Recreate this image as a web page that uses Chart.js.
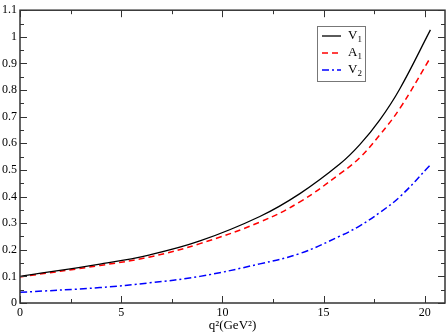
<!DOCTYPE html>
<html>
<head>
<meta charset="utf-8">
<script src="https://cdn.jsdelivr.net/npm/chart.js@4.4.0/dist/chart.umd.min.js"></script>
<style>
    html, body { margin: 0; padding: 0; background: #fff; }
</style>
</head>
<body>
<canvas id="chart" width="447" height="336"></canvas>
<script>
// Values
const q2Values = [0, 3.95, 6.42, 8.89, 11.85, 13.83, 15.80, 16.79, 17.78, 18.77, 20.28];
const v1Values = [0.100, 0.146, 0.181, 0.233, 0.325, 0.411, 0.522, 0.595, 0.688, 0.805, 1.026];
const a1Values = [0.098, 0.141, 0.173, 0.223, 0.304, 0.380, 0.485, 0.546, 0.632, 0.731, 0.922];
const v2Values = [0.040, 0.058, 0.076, 0.100, 0.147, 0.186, 0.251, 0.290, 0.340, 0.399, 0.519];

// Tick labels shown on the axes
const xTickLabels = [0, 5, 10, 15, 20];

// Legend text: main letter + subscript
const seriesNames = [['V', '1'], ['A', '1'], ['V', '2']];
const xTitle = 'q\u00B2(GeV\u00B2)';

const FONT = '"Liberation Serif", "DejaVu Serif", serif';

function toPoints(ys) {
    return q2Values.map((x, i) => ({ x: x, y: ys[i] }));
}

// Frame with inward ticks on all four sides, then the boxed legend
const framePlugin = {
    id: 'frame',
    afterDatasetsDraw(chart) {
        const ctx = chart.ctx;
        const area = chart.chartArea;
        const xs = chart.scales.x;
        const ys = chart.scales.y;

        ctx.save();
        ctx.strokeStyle = '#333';
        ctx.lineWidth = 1.5;
        ctx.strokeRect(area.left, area.top, area.right - area.left, area.bottom - area.top);

        ctx.lineWidth = 1;
        ctx.beginPath();
        for (let v = 0; v <= 21.001; v += 2.5) {
            const px = Math.round(xs.getPixelForValue(v)) + 0.5;
            const len = (Math.abs(v % 5) < 0.01) ? 7 : 4;
            ctx.moveTo(px, area.bottom);
            ctx.lineTo(px, area.bottom - len);
            ctx.moveTo(px, area.top);
            ctx.lineTo(px, area.top + len);
        }
        for (let i = 0; i <= 22; i++) {
            const py = Math.round(ys.getPixelForValue(i * 0.05)) + 0.5;
            const len = (i % 2 === 0) ? 7 : 4;
            ctx.moveTo(area.left, py);
            ctx.lineTo(area.left + len, py);
            ctx.moveTo(area.right, py);
            ctx.lineTo(area.right - len, py);
        }
        ctx.stroke();

        // legend box
        const bx = 317, by = 26, bw = 48, bh = 55;
        ctx.fillStyle = '#fff';
        ctx.fillRect(bx, by, bw, bh);
        ctx.strokeStyle = '#777';
        ctx.lineWidth = 1;
        ctx.strokeRect(bx + 0.5, by + 0.5, bw, bh);

        chart.data.datasets.forEach((ds, i) => {
            const rowY = by + 10 + i * 17;
            ctx.strokeStyle = ds.borderColor;
            ctx.lineWidth = ds.borderWidth;
            ctx.setLineDash(ds.borderDash || []);
            ctx.beginPath();
            ctx.moveTo(bx + 5, rowY);
            ctx.lineTo(bx + 24, rowY);
            ctx.stroke();
            ctx.setLineDash([]);

            ctx.fillStyle = '#000';
            ctx.textBaseline = 'middle';
            ctx.textAlign = 'left';
            ctx.font = '13px ' + FONT;
            ctx.fillText(seriesNames[i][0], bx + 31, rowY);
            const w = ctx.measureText(seriesNames[i][0]).width;
            ctx.font = '9px ' + FONT;
            ctx.fillText(seriesNames[i][1], bx + 31 + w, rowY + 4);
        });
        ctx.restore();
    }
};

new Chart(document.getElementById('chart'), {
    type: 'line',
    data: {
        datasets: [
            {
                label: 'V1',
                data: toPoints(v1Values),
                borderColor: '#000000',
                borderWidth: 1.3,
                pointRadius: 0,
                tension: 0.4,
                fill: false
            },
            {
                label: 'A1',
                data: toPoints(a1Values),
                borderColor: '#ff0000',
                borderWidth: 1.5,
                borderDash: [6, 4],
                pointRadius: 0,
                tension: 0.4,
                fill: false
            },
            {
                label: 'V2',
                data: toPoints(v2Values),
                borderColor: '#0000ff',
                borderWidth: 1.5,
                borderDash: [7, 3, 2, 3],
                pointRadius: 0,
                tension: 0.4,
                fill: false
            }
        ]
    },
    options: {
        responsive: false,
        animation: false,
        devicePixelRatio: 1,
        layout: { padding: { top: 5, right: 2, left: 0, bottom: 0 } },
        plugins: {
            legend: { display: false },
            tooltip: { enabled: false }
        },
        scales: {
            x: {
                type: 'linear',
                min: 0,
                max: 21,
                grid: { display: false, drawTicks: false },
                border: { display: false },
                afterBuildTicks(scale) {
                    scale.ticks = xTickLabels.map(v => ({ value: v }));
                },
                ticks: {
                    color: '#000',
                    padding: 3,
                    maxRotation: 0,
                    font: { family: FONT, size: 12 }
                },
                title: {
                    display: true,
                    text: xTitle,
                    color: '#000',
                    padding: { top: 0, bottom: 3 },
                    font: { family: FONT, size: 13 }
                },
                afterFit(scale) { scale.height = 33; }
            },
            y: {
                min: 0,
                max: 1.1,
                grid: { display: false, drawTicks: false },
                border: { display: false },
                ticks: {
                    stepSize: 0.1,
                    color: '#000',
                    padding: 3,
                    font: { family: FONT, size: 12 },
                    callback: v => String(Number(v.toFixed(2)))
                },
                afterFit(scale) { scale.width = 20; }
            }
        }
    },
    plugins: [framePlugin]
});
</script>
</body>
</html>
